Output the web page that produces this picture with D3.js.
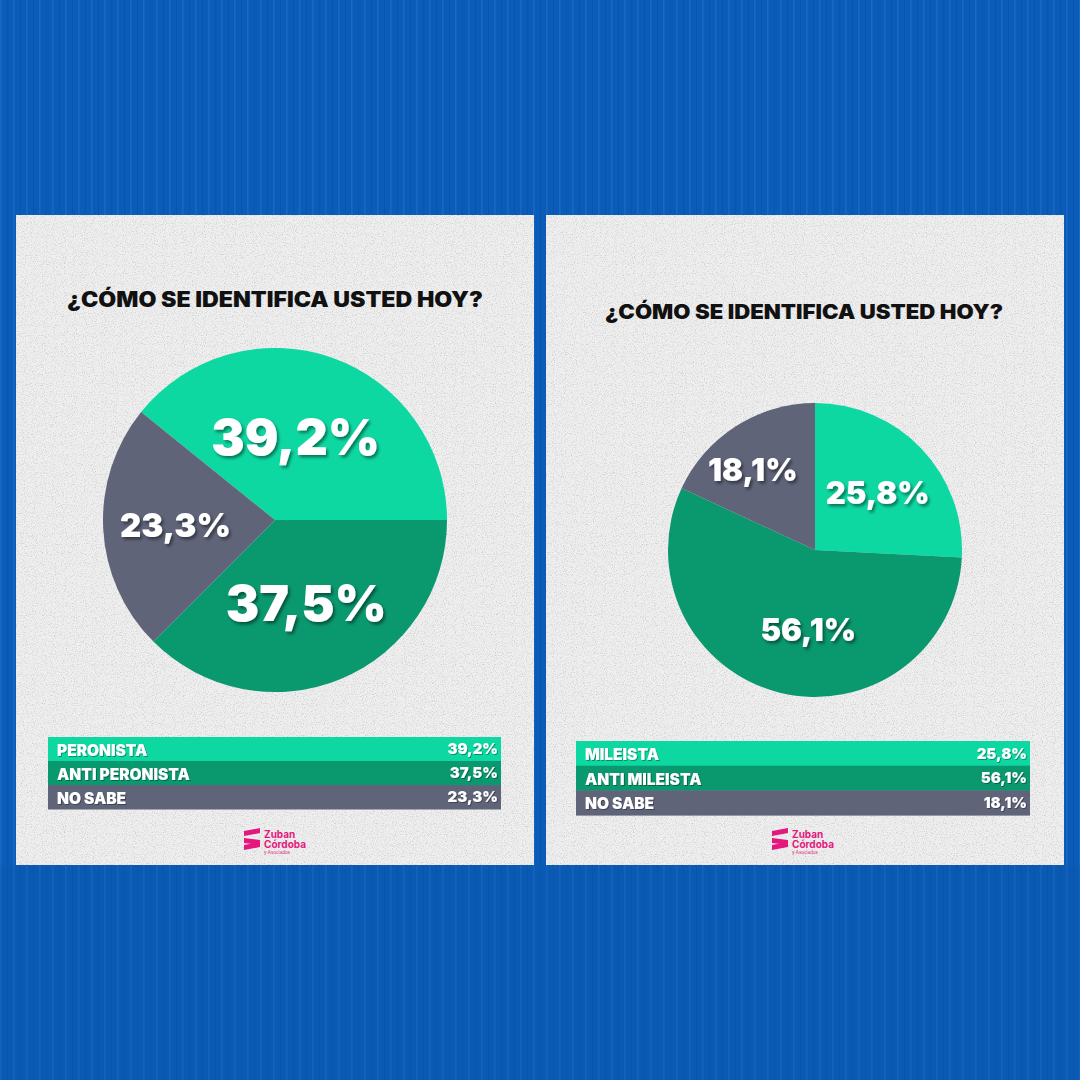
<!DOCTYPE html>
<html><head><meta charset="utf-8">
<script src="https://cdn.jsdelivr.net/npm/d3@7"></script>
<style>
html,body{margin:0;padding:0;background:#0b5cb6;}
svg{display:block;}
text{font-family:Inter,"Open Sans",sans-serif;}
</style></head>
<body>
<svg id="chart" width="1080" height="1080"></svg>
<script>
// ---- DATA ----
const title = "¿CÓMO SE IDENTIFICA USTED HOY?";
const categoriesLeft = ["PERONISTA", "ANTI PERONISTA", "NO SABE"];
const valuesLeft = [39.2, 37.5, 23.3];
const categoriesRight = ["MILEISTA", "ANTI MILEISTA", "NO SABE"];
const valuesRight = [25.8, 56.1, 18.1];
const sliceColors = ["#0ed8a2", "#0a986f", "#5f6479"];

// ---- LAYOUT ----
const svg = d3.select("#chart");
const defs = svg.append("defs");

// background stripes
const pat = defs.append("pattern").attr("id","stripes").attr("patternUnits","userSpaceOnUse")
  .attr("width",13).attr("height",1080);
pat.append("rect").attr("width",13).attr("height",1080).attr("fill","#0b5cb8");
pat.append("rect").attr("x",0).attr("width",1.5).attr("height",1080).attr("fill","#1a6cc8").attr("opacity",0.8);
pat.append("rect").attr("x",7).attr("width",1).attr("height",1080).attr("fill","#0850a6").attr("opacity",0.6);
svg.append("rect").attr("width",1080).attr("height",1080).attr("fill","url(#stripes)");
svg.append("rect").attr("y",865).attr("width",1080).attr("height",215).attr("fill","#0a56ad").attr("opacity",0.3);

// paper texture filter
const tex = defs.append("filter").attr("id","paper").attr("x",0).attr("y",0).attr("width","100%").attr("height","100%");
tex.append("feTurbulence").attr("type","fractalNoise").attr("baseFrequency",0.9).attr("numOctaves",2).attr("seed",3).attr("result","n");
tex.append("feColorMatrix").attr("in","n").attr("type","matrix")
  .attr("values","0 0 0 0 0.55  0 0 0 0 0.55  0 0 0 0 0.55  0 0 0 -2.2 1.15").attr("result","speck");
tex.append("feComposite").attr("in","speck").attr("in2","SourceGraphic").attr("operator","in").attr("result","s2");
tex.append("feMerge").call(m=>{m.append("feMergeNode").attr("in","SourceGraphic");m.append("feMergeNode").attr("in","s2");});

// text shadow
const sh = defs.append("filter").attr("id","tshadow").attr("x","-20%").attr("y","-30%").attr("width","140%").attr("height","160%");
sh.append("feDropShadow").attr("dx",2).attr("dy",2.5).attr("stdDeviation",1.5).attr("flood-color","#000").attr("flood-opacity",0.45);
const sh2 = defs.append("filter").attr("id","tshadow2").attr("x","-10%").attr("y","-30%").attr("width","120%").attr("height","160%");
sh2.append("feDropShadow").attr("dx",1).attr("dy",1).attr("stdDeviation",0.6).attr("flood-color","#000").attr("flood-opacity",0.35);

const fmt = v => v.toFixed(1).replace(".", ",") + "%";

const panels = [
  {cats:categoriesLeft, vals:valuesLeft, x:16, y:215, w:518, h:650, titleX:275, titleY:307, titleSize:21, titleW:416,
   cx:275, cy:520, r:172, start:Math.PI/2 - valuesLeft[0]/100*2*Math.PI, labelR:[0.5,0.52,0.58], labelSize:[50,50,33],
   labelOff:[[-8,-2],[-3,0],[0,0]],
   lx:48, ly:737, lw:453, rowH:24, logoX:244, logoY:828},
  {cats:categoriesRight, vals:valuesRight, x:546, y:215, w:518, h:650, titleX:804, titleY:319, titleSize:20, titleW:398,
   cx:815, cy:550, r:147, start:0, labelR:[0.56,0.56,0.66], labelSize:[31,31,31],
   labelOff:[[3,0],[13,0],[-10,2]],
   lx:576, ly:741, lw:454, rowH:24.7, logoX:772, logoY:828}
];

panels.forEach(p => {
  const g = svg.append("g");
  g.append("rect").attr("x",p.x).attr("y",p.y).attr("width",p.w).attr("height",p.h)
    .attr("fill","#efefef").attr("filter","url(#paper)");

  g.append("text").attr("x",p.titleX).attr("y",p.titleY).attr("text-anchor","middle")
    .attr("font-size",p.titleSize).attr("font-weight",900).attr("fill","#111")
    .attr("textLength",p.titleW).attr("lengthAdjust","spacingAndGlyphs").text(title);

  const pie = d3.pie().sort(null).startAngle(p.start).endAngle(p.start + 2*Math.PI);
  const arcs = pie(p.vals);
  const arc = d3.arc().innerRadius(0).outerRadius(p.r);
  const pg = g.append("g").attr("transform",`translate(${p.cx},${p.cy})`);
  pg.selectAll("path").data(arcs).join("path").attr("d",arc).attr("fill",(d,i)=>sliceColors[i]);
  pg.selectAll("text").data(arcs).join("text")
    .attr("transform",(d,i)=>{const c=d3.arc().innerRadius(p.r*p.labelR[i]).outerRadius(p.r*p.labelR[i]).centroid(d);
      return `translate(${c[0]+p.labelOff[i][0]},${c[1]+p.labelOff[i][1]})`;})
    .attr("text-anchor","middle").attr("dy","0.36em")
    .attr("font-size",(d,i)=>p.labelSize[i]).attr("font-weight",900).attr("fill","#fff")
    .attr("filter","url(#tshadow)")
    .text(d=>fmt(d.data));

  // legend table
  const y = d3.scaleBand().domain(p.cats).range([p.ly, p.ly + p.rowH*p.cats.length]).padding(0);
  const lg = g.append("g");
  lg.selectAll("rect").data(p.cats).join("rect")
    .attr("x",p.lx).attr("y",d=>y(d)).attr("width",p.lw).attr("height",y.bandwidth()+0.5)
    .attr("fill",(d,i)=>sliceColors[i]);
  lg.selectAll("text.cat").data(p.cats).join("text").attr("class","cat")
    .attr("x",p.lx+9).attr("y",d=>y(d)+y.bandwidth()/2+1).attr("dy","0.36em")
    .attr("font-size",15.5).attr("font-weight",900).attr("fill","#fff").attr("filter","url(#tshadow2)")
    .text(d=>d);
  lg.selectAll("text.val").data(p.vals).join("text").attr("class","val")
    .attr("x",p.lx+p.lw-3).attr("y",(d,i)=>y(p.cats[i])+y.bandwidth()/2).attr("dy","0.36em")
    .attr("text-anchor","end").attr("font-size",15).attr("font-weight",900).attr("fill","#fff").attr("filter","url(#tshadow2)")
    .text(d=>fmt(d));

  // logo
  const lgo = g.append("g").attr("transform",`translate(${p.logoX},${p.logoY})`);
  const pink = "#e5177e";
  [0,1,2].forEach(k=>{
    lgo.append("path").attr("d",`M0,${3+k*7} L16,${k*7+ (k===1?5:0)} L16,${5+k*7+(k===1?5:0)} L0,${8+k*7} Z`).attr("fill",pink);
  });
  lgo.append("text").attr("x",20).attr("y",10).attr("font-size",10).attr("font-weight",700).attr("fill",pink).text("Zuban");
  lgo.append("text").attr("x",20).attr("y",20).attr("font-size",10).attr("font-weight",700).attr("fill",pink).text("Córdoba");
  lgo.append("text").attr("x",20).attr("y",26).attr("font-size",4.5).attr("fill",pink).text("y Asociados");
});
</script>
</body></html>
